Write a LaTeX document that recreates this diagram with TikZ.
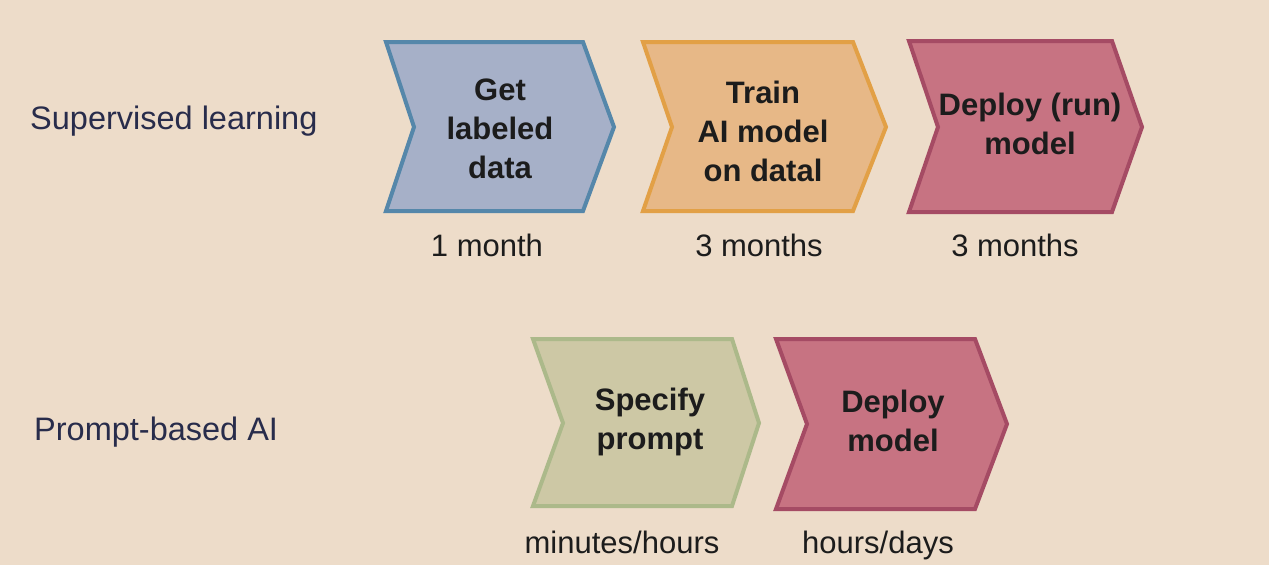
\documentclass[tikz,border=0pt]{standalone}
\usepackage{fontspec}
\setmainfont{Liberation Sans}
\definecolor{bg}{RGB}{237,220,201}
\definecolor{bluefill}{RGB}{166,176,200}
\definecolor{blueline}{RGB}{85,135,170}
\definecolor{orfill}{RGB}{231,184,135}
\definecolor{orline}{RGB}{226,160,70}
\definecolor{pkfill}{RGB}{199,115,130}
\definecolor{pkline}{RGB}{165,75,100}
\definecolor{grfill}{RGB}{205,200,165}
\definecolor{grline}{RGB}{172,185,138}
\definecolor{navy}{RGB}{40,44,75}
\definecolor{ink}{RGB}{28,28,28}
\tikzset{
  chev/.style={line width=4pt, line join=miter},
  steptext/.style={font=\fontsize{31}{39}\selectfont\bfseries, text=ink, align=center, inner sep=0pt, anchor=base},
  timetext/.style={font=\fontsize{31}{36}\selectfont, text=ink, inner sep=0pt, anchor=base},
  rowlabel/.style={font=\fontsize{32.5}{38}\selectfont, text=navy, anchor=base west, inner sep=0pt},
}
\begin{document}
\begin{tikzpicture}[x=1pt,y=-1pt]
\fill[bg] (0,0) rectangle (1269,565);
\useasboundingbox (0,0) rectangle (1269,565);
% row labels
\node[rowlabel] (sl) at (30,129) {Supervised learning};
\node[rowlabel] (pb) at (34,440) {Prompt-based AI};
% chevrons row 1
\draw[chev, fill=bluefill, draw=blueline] (386,42) -- (583,42) -- (614,127) -- (583,211) -- (386,211) -- (414,127) -- cycle;
\draw[chev, fill=orfill, draw=orline] (643,42) -- (853,42) -- (886,127) -- (853,211) -- (643,211) -- (672,127) -- cycle;
\draw[chev, fill=pkfill, draw=pkline] (909,41) -- (1112,41) -- (1142,127) -- (1112,212) -- (909,212) -- (938,127) -- cycle;
% chevrons row 2
\draw[chev, fill=grfill, draw=grline] (533,339) -- (732,339) -- (759,423) -- (732,506) -- (533,506) -- (563,423) -- cycle;
\draw[chev, fill=pkfill, draw=pkline] (776,339) -- (975,339) -- (1007,424) -- (975,509) -- (776,509) -- (807,424) -- cycle;
% step texts (base = last line baseline)
\node[steptext] (s1) at (500,178) {Get\\labeled\\data};
\node[steptext] (s2) at (763,181) {Train\\AI model\\on datal};
\node[steptext] (s3) at (1030,154) {Deploy (run)\\model};
\node[steptext] (s4) at (650,449) {Specify\\prompt};
\node[steptext] (s5) at (893,451) {Deploy\\model};
% times
\node[timetext] (t1) at (487,256) {1 month};
\node[timetext] (t2) at (759,256) {3 months};
\node[timetext] (t3) at (1015,256) {3 months};
\node[timetext] (t4) at (622,553) {minutes/hours};
\node[timetext] (t5) at (878,553) {hours/days};
\end{tikzpicture}
\end{document}
